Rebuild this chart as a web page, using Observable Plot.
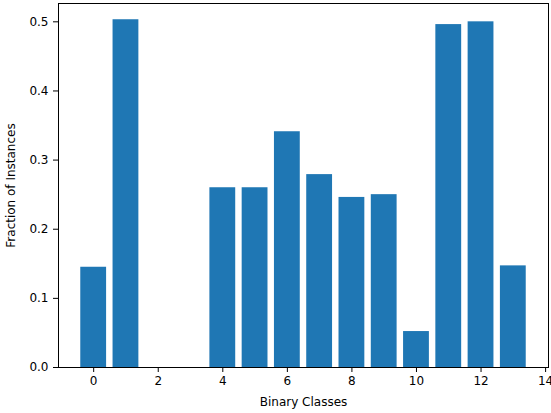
<!DOCTYPE html>
<html><head><meta charset="utf-8">
<script src="https://cdn.jsdelivr.net/npm/d3@7"></script>
<script src="https://cdn.jsdelivr.net/npm/@observablehq/plot@0.6"></script>
<style>
body{margin:0;background:#fff;}
svg text{font-family:"DejaVu Sans",sans-serif !important; font-size:12px !important;}
</style>
</head><body>
<div id="chart"></div>
<script>
const classes = [0,1,2,3,4,5,6,7,8,9,10,11,12,13];
const fractions = [0.145,0.503,0,0,0.260,0.260,0.341,0.279,0.246,0.250,0.052,0.496,0.500,0.147];
const xTicks = [0,2,4,6,8,10,12,14];
const yTicks = [0,0.1,0.2,0.3,0.4,0.5];
const data = classes.map((c,i)=>({cls:c, frac:fractions[i]}));
const barHalf = 0.4;

const chart = Plot.plot({
  width: 551, height: 413,
  marginLeft: 58, marginTop: 3, marginRight: 3, marginBottom: 46,
  style: {fontSize: "12px", fontFamily: "DejaVu Sans, sans-serif", color: "#000", background: "#fff"},
  x: {domain: [-1.09, 14.09]},
  y: {domain: [0, 0.5265]},
  marks: [
    Plot.rectY(data, {x1: d=>d.cls-barHalf, x2: d=>d.cls+barHalf, y1: 0, y2: "frac", fill: "#1f77b4"}),
    Plot.axisX({ticks: xTicks, tickSize: 5, tickPadding: 4, fontSize: 12, tickFormat: d=>String(d), label: "Binary Classes", labelAnchor: "center", labelArrow: "none", labelOffset: 38}),
    Plot.axisY({ticks: yTicks, tickSize: 5, tickPadding: 5, fontSize: 12, tickFormat: d3.format(".1f"), label: "Fraction of Instances", labelAnchor: "center", labelArrow: "none", labelOffset: 52}),
    Plot.frame({stroke: "#000", strokeWidth: 1})
  ]
});
document.getElementById("chart").appendChild(chart);
</script>
</body></html>
